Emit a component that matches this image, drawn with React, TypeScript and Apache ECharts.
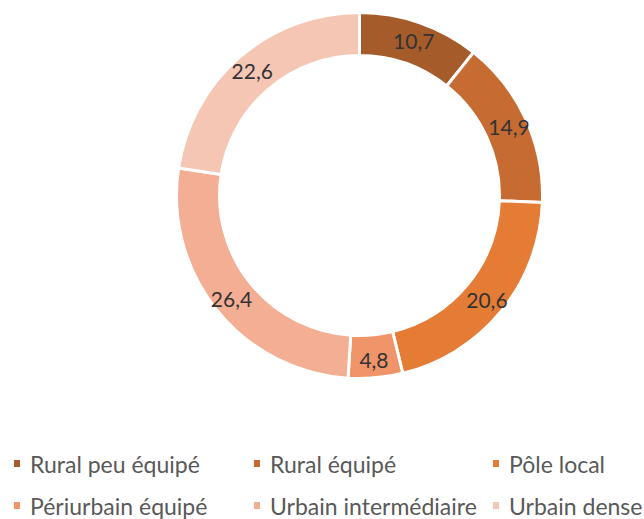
import React, { useEffect, useRef } from "react";
import * as echarts from "echarts";

const categories = [
  "Rural peu équipé",
  "Rural équipé",
  "Pôle local",
  "Périurbain équipé",
  "Urbain intermédiaire",
  "Urbain dense",
];
const values = [10.7, 14.9, 20.6, 4.8, 26.4, 22.6];
const colors = ["#A65B2A", "#C66B31", "#E57C36", "#F0946A", "#F4AE93", "#F6C6B5"];
const legendLeft = [12, 252, 491];
const legendTop = [452, 494];

export default function App() {
  const ref = useRef<HTMLDivElement>(null);
  useEffect(() => {
    const chart = echarts.init(ref.current!, null, { renderer: "svg" });
    const legends = categories.map((c, i) => ({
      data: [c],
      left: legendLeft[i % 3],
      top: legendTop[Math.floor(i / 3)],
      icon: "rect",
      itemWidth: 8,
      itemHeight: 9,
      padding: 0,
      selectedMode: false,
      textStyle: {
        fontFamily: "Lato",
        fontSize: 23,
        lineHeight: 23,
        color: "#595959",
        padding: [0, 0, 0, 4],
      },
    }));
    chart.setOption({
      animation: false,
      backgroundColor: "#ffffff",
      legend: legends,
      series: [
        {
          type: "pie",
          center: [359.5, 195.5],
          radius: [140, 183],
          startAngle: 90,
          clockwise: true,
          avoidLabelOverlap: false,
          itemStyle: { borderColor: "#ffffff", borderWidth: 3 },
          label: {
            show: true,
            position: "inside",
            formatter: (p: any) => String(p.value).replace(".", ","),
            fontFamily: "Lato",
            fontSize: 21,
            color: "#333333",
          },
          labelLine: { show: false },
          emphasis: { disabled: true },
          data: categories.map((c, i) => ({
            name: c,
            value: values[i],
            itemStyle: { color: colors[i] },
          })),
        },
      ],
    });
    return () => chart.dispose();
  }, []);
  return <div ref={ref} style={{ width: 644, height: 519, position: "absolute", left: 0, top: 0 }} />;
}
